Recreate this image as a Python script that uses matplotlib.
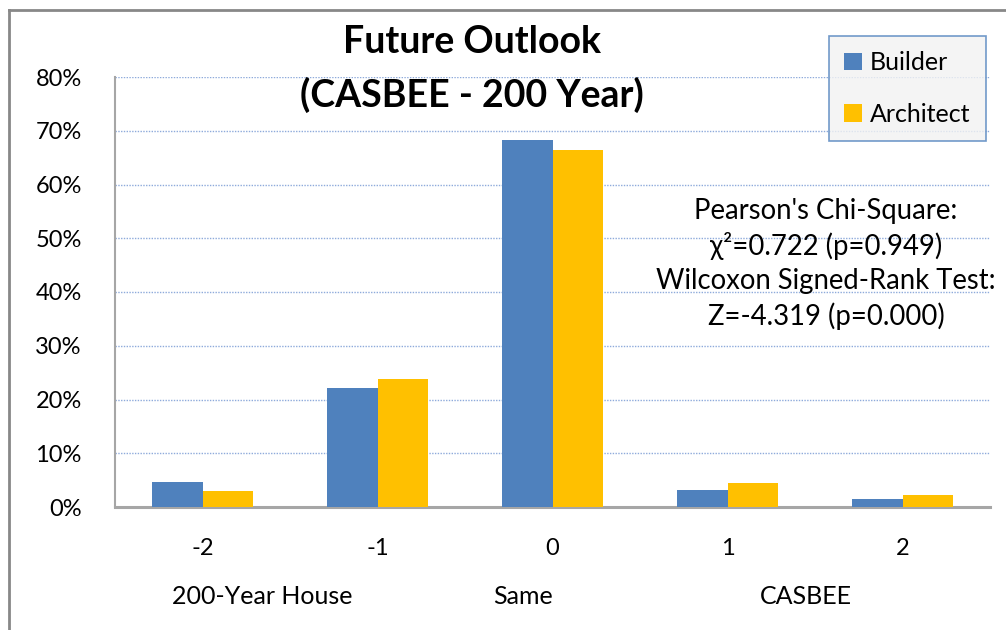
import matplotlib
matplotlib.use("Agg")
import matplotlib.pyplot as plt
from matplotlib.lines import Line2D
import numpy as np

plt.rcParams['font.family'] = ['Lato', 'DejaVu Sans']

categories = ["-2", "-1", "0", "1", "2"]
builder = [4.7, 22.1, 68.3, 3.2, 1.5]
architect = [3.0, 23.8, 66.4, 4.4, 2.3]
series_names = ["Builder", "Architect"]
colors = ["#4f81bd", "#ffc000"]
yticks = [0, 10, 20, 30, 40, 50, 60, 70, 80]
group_labels = ["200-Year House", "Same", "CASBEE"]
group_pos = [0.34, 1.83, 3.45]
stats_text = ("Pearson's Chi-Square:\n\u03c7\u00b2=0.722 (p=0.949)\n"
              "Wilcoxon Signed-Rank Test:\nZ=-4.319 (p=0.000)")

W, H = 1006, 630
fig = plt.figure(figsize=(W / 100, H / 100), dpi=100)
ax = fig.add_axes([115 / W, 1 - 507 / H, 875 / W, 430 / H])

x = np.arange(len(categories))
bw = 0.286
ax.bar(x - bw / 2, builder, bw, color=colors[0], label=series_names[0], zorder=3)
ax.bar(x + bw / 2, architect, bw, color=colors[1], label=series_names[1], zorder=3)

ax.set_xlim(-0.5, len(categories) - 0.5)
ax.set_ylim(0, 80)
ax.set_yticks(yticks)
ax.set_yticklabels([f"{v}%" for v in yticks], fontsize=17)
ax.set_xticks(x)
ax.set_xticklabels(categories, fontsize=17)
ax.tick_params(axis='y', length=0, pad=24)
ax.tick_params(axis='x', length=0, pad=22)
ax.yaxis.grid(True, linestyle=(0, (1, 1)), color="#8eaadb", linewidth=1, zorder=0)
ax.set_axisbelow(True)
for s in ["top", "right"]:
    ax.spines[s].set_visible(False)
ax.spines["bottom"].set_color("#a6a6a6")
ax.spines["bottom"].set_linewidth(2.2)
ax.spines["left"].set_color("#a6a6a6")
ax.spines["left"].set_linewidth(1.5)

trans = ax.get_xaxis_transform()
for lab, p in zip(group_labels, group_pos):
    ax.text(p, -89 / 430, lab, transform=trans, ha='center', va='center', fontsize=18)

fig.text(472 / W, 1 - 42 / H, "Future Outlook", ha='center', va='center',
         fontsize=27, fontweight='bold')
fig.text(472 / W, 1 - 95 / H, "(CASBEE - 200 Year)", ha='center', va='center',
         fontsize=27, fontweight='bold')

fig.text(826 / W, 1 - 264 / H, stats_text, ha='center', va='center',
         fontsize=19.8, linespacing=1.36)

leg = ax.legend(loc='upper left', bbox_to_anchor=(829 / W, 1 - 36 / H),
                bbox_transform=fig.transFigure, fontsize=18, frameon=True,
                fancybox=False, handlelength=0.7, handleheight=0.7,
                handletextpad=0.35, labelspacing=1.15, borderpad=0.6,
                borderaxespad=0)
leg.get_frame().set_facecolor("#f2f2f2")
leg.get_frame().set_edgecolor("#4f81bd")
leg.get_frame().set_linewidth(1.2)

fig.add_artist(Line2D([9 / W, 9 / W], [0, 1 - 10 / H], transform=fig.transFigure,
                      color="#888888", linewidth=2))
fig.add_artist(Line2D([9 / W, 1], [1 - 10 / H, 1 - 10 / H], transform=fig.transFigure,
                      color="#888888", linewidth=2))

fig.savefig("out.png", dpi=100, facecolor="white")
